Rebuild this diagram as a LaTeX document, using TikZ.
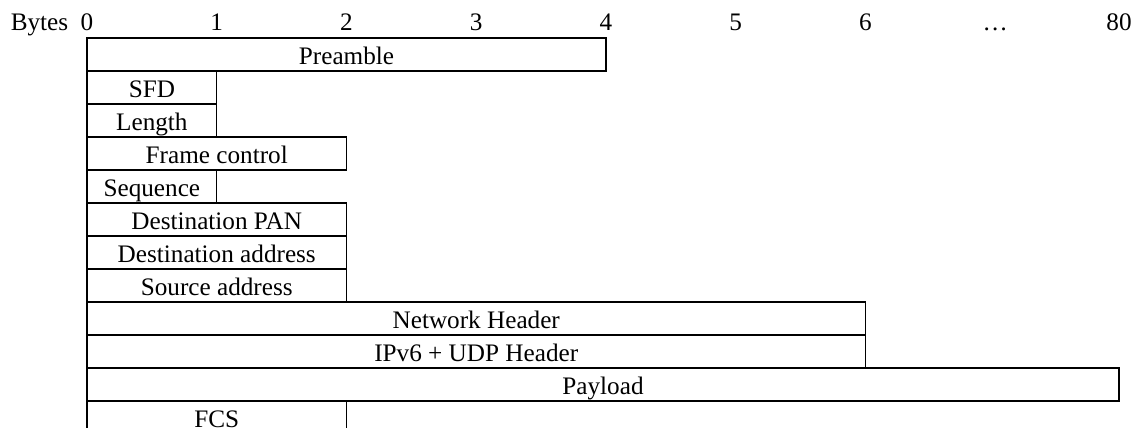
\documentclass[tikz,border=0pt]{standalone}
\usepackage{fontspec}
\setmainfont{Liberation Serif}

\begin{document}
\begin{tikzpicture}[
 x=64.875pt,
 y=16.5pt,
 fld/.style={draw, line width=0.6pt, anchor=north west, inner sep=0pt, outer sep=0pt,
  minimum height=16.5pt, minimum width=#1*64.875pt, text height=11pt, text depth=0.7pt,
  font=\fontsize{12.6}{14}\selectfont},
 num/.style={anchor=base, inner sep=0pt, font=\fontsize{12.6}{14}\selectfont}
]
\clip (-0.6705,1.1515) rectangle (8.077,-11.788);

% byte scale
\node [num] (bytes) at (-0.366,0.242) {Bytes};
\node [num] (b0) at (0,0.242) {0};
\node [num] (b1) at (1,0.242) {1};
\node [num] (b2) at (2,0.242) {2};
\node [num] (b3) at (3,0.242) {3};
\node [num] (b4) at (4,0.242) {4};
\node [num] (b5) at (5,0.242) {5};
\node [num] (b6) at (6,0.242) {6};
\node [num] (bdots) at (7,0.242) {\dots};
\node [num] (b80) at (7.954,0.242) {80};

% frame fields
\node [fld=4] (preamble) at (0,0) {Preamble};
\node [fld=1] (sfd) at (0,-1) {SFD};
\node [fld=1] (length) at (0,-2) {Length};
\node [fld=2] (fctrl) at (0,-3) {Frame control};
\node [fld=1] (seq) at (0,-4) {Sequence};
\node [fld=2] (dpan) at (0,-5) {Destination PAN};
\node [fld=2] (daddr) at (0,-6) {Destination address};
\node [fld=2] (saddr) at (0,-7) {Source address};
\node [fld=6] (nethdr) at (0,-8) {Network Header};
\node [fld=6] (iphdr) at (0,-9) {IPv6 + UDP Header};
\node [fld=7.954] (payload) at (0,-10) {Payload};
\node [fld=2] (fcs) at (0,-11) {FCS};
\end{tikzpicture}
\end{document}
